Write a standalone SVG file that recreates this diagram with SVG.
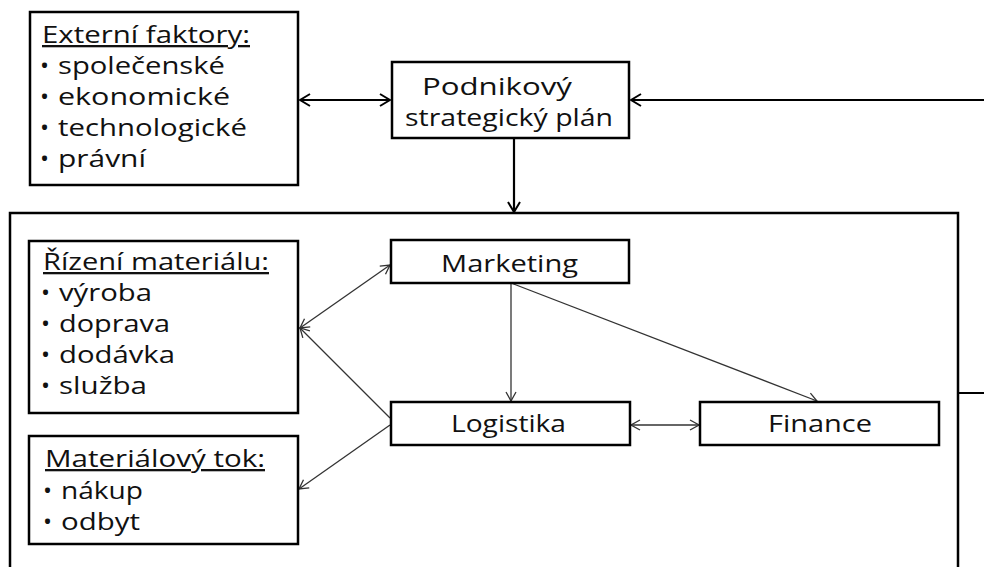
<svg xmlns="http://www.w3.org/2000/svg" width="984" height="567" viewBox="0 0 984 567">
  <style>
    .box { fill: #fff; stroke: #000; stroke-width: 2.5; }
    .frame { fill: none; stroke: #000; stroke-width: 2.5; }
    .t { font-family: "Open Sans", "Noto Sans", sans-serif; font-size: 23px; fill: #111; }
    .b { font-family: "Open Sans", "Noto Sans", sans-serif; font-size: 24px; fill: #111; }
    .h { text-decoration: underline; }
    .thick { fill: none; stroke: #000; stroke-width: 2.2; }
    .thin { fill: none; stroke: #333; stroke-width: 1.3; }
  </style>
  <defs>
    <marker id="ah-thick" markerUnits="userSpaceOnUse" viewBox="0 0 14 14" markerWidth="14" markerHeight="14" refX="13" refY="7" orient="auto-start-reverse">
      <path d="M3,1 L13,7 L3,13" fill="none" stroke="#000" stroke-width="2"/>
    </marker>
    <marker id="ah-thin" markerUnits="userSpaceOnUse" viewBox="0 0 12 12" markerWidth="12" markerHeight="12" refX="11" refY="6" orient="auto-start-reverse">
      <path d="M2,1 L11,6 L2,11" fill="none" stroke="#333" stroke-width="1.3"/>
    </marker>
  </defs>

  <!-- outer frame of the company, open at the bottom -->
  <g id="company-frame">
    <path class="frame" d="M10,580 V213 H958 V580"/>
  </g>

  <g id="connectors">
    <path class="thick" d="M300,100 H390" marker-start="url(#ah-thick)" marker-end="url(#ah-thick)"/>
    <path class="thick" d="M958,393 H992 V100 H631" marker-end="url(#ah-thick)"/>
    <path class="thick" d="M514,138 V212" marker-end="url(#ah-thick)"/>
    <path class="thin" d="M300,328 L390,265" marker-start="url(#ah-thin)" marker-end="url(#ah-thin)"/>
    <path class="thin" d="M390,418 L300,328" marker-end="url(#ah-thin)"/>
    <path class="thin" d="M390,425 L299,489" marker-end="url(#ah-thin)"/>
    <path class="thin" d="M511,283 V401" marker-end="url(#ah-thin)"/>
    <path class="thin" d="M511,283 L817,401" marker-end="url(#ah-thin)"/>
    <path class="thin" d="M631,425 H699" marker-start="url(#ah-thin)" marker-end="url(#ah-thin)"/>
  </g>

  <g id="externi-faktory">
    <rect class="box" x="30" y="12" width="268" height="173"/>
    <text class="t h" x="42" y="43" textLength="208" lengthAdjust="spacingAndGlyphs">Externí faktory:</text>
    <text class="b" x="40" y="74">•</text>
    <text class="t" x="58" y="74" textLength="167" lengthAdjust="spacingAndGlyphs">společenské</text>
    <text class="b" x="40" y="105">•</text>
    <text class="t" x="58" y="105" textLength="172" lengthAdjust="spacingAndGlyphs">ekonomické</text>
    <text class="b" x="40" y="136">•</text>
    <text class="t" x="58" y="136" textLength="189" lengthAdjust="spacingAndGlyphs">technologické</text>
    <text class="b" x="40" y="167">•</text>
    <text class="t" x="58" y="167" textLength="88" lengthAdjust="spacingAndGlyphs">právní</text>
  </g>

  <g id="strategicky-plan">
    <rect class="box" x="392" y="62" width="237" height="76"/>
    <text class="t" x="422" y="95" textLength="150" lengthAdjust="spacingAndGlyphs">Podnikový</text>
    <text class="t" x="405" y="126" textLength="208" lengthAdjust="spacingAndGlyphs">strategický plán</text>
  </g>

  <g id="rizeni-materialu">
    <rect class="box" x="29" y="241" width="269" height="172"/>
    <text class="t h" x="43" y="270" textLength="226" lengthAdjust="spacingAndGlyphs">Řízení materiálu:</text>
    <text class="b" x="41" y="301">•</text>
    <text class="t" x="59" y="301" textLength="93" lengthAdjust="spacingAndGlyphs">výroba</text>
    <text class="b" x="41" y="332">•</text>
    <text class="t" x="59" y="332" textLength="111" lengthAdjust="spacingAndGlyphs">doprava</text>
    <text class="b" x="41" y="363">•</text>
    <text class="t" x="59" y="363" textLength="116" lengthAdjust="spacingAndGlyphs">dodávka</text>
    <text class="b" x="41" y="394">•</text>
    <text class="t" x="59" y="394" textLength="88" lengthAdjust="spacingAndGlyphs">služba</text>
  </g>

  <g id="materialovy-tok">
    <rect class="box" x="29" y="436" width="269" height="108"/>
    <text class="t h" x="45" y="467" textLength="220" lengthAdjust="spacingAndGlyphs">Materiálový tok:</text>
    <text class="b" x="43" y="499">•</text>
    <text class="t" x="61" y="499" textLength="82" lengthAdjust="spacingAndGlyphs">nákup</text>
    <text class="b" x="43" y="530">•</text>
    <text class="t" x="61" y="530" textLength="79" lengthAdjust="spacingAndGlyphs">odbyt</text>
  </g>

  <g id="marketing">
    <rect class="box" x="391" y="240" width="238" height="43"/>
    <text class="t" x="441" y="272" textLength="137" lengthAdjust="spacingAndGlyphs">Marketing</text>
  </g>

  <g id="logistika">
    <rect class="box" x="391" y="402" width="239" height="43"/>
    <text class="t" x="451" y="432" textLength="115" lengthAdjust="spacingAndGlyphs">Logistika</text>
  </g>

  <g id="finance">
    <rect class="box" x="700" y="402" width="239" height="43"/>
    <text class="t" x="768" y="432" textLength="104" lengthAdjust="spacingAndGlyphs">Finance</text>
  </g>
</svg>
